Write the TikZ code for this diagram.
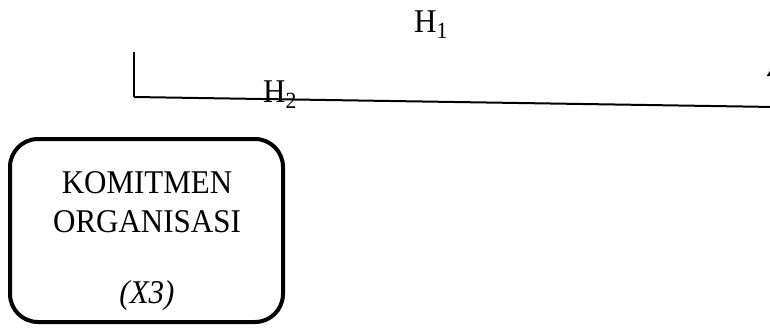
\documentclass[tikz,border=0pt]{standalone}
\usepackage{fontspec}
\setmainfont{Liberation Serif}
\usetikzlibrary{arrows.meta}
\newcommand{\talltext}[1]{\scalebox{1}[1.07]{#1}}
\begin{document}
\begin{tikzpicture}[x=1pt,y=1pt,
  label text/.style={inner sep=0pt, anchor=base west, font=\fontsize{31}{37}\selectfont},
  box text/.style={inner sep=0pt, anchor=base, font=\fontsize{31}{37}\selectfont},
  link/.style={line width=2pt},
  varbox/.style={draw, line width=4pt, rounded corners=28pt}]
\useasboundingbox (0,0) rectangle (770,-327);
\clip (0,0) rectangle (770,-327);

% variable box
\draw[varbox] (10,-139) rectangle (283,-322);
\node[box text] (k) at (147,-193) {\talltext{KOMITMEN}};
\node[box text] (o) at (147,-232) {\talltext{ORGANISASI}};
\node[box text] (x) at (147,-303) {\talltext{\itshape (X3)}};

% hypothesis path
\coordinate (vtop) at (134,-52);
\coordinate (corner) at (134,-97);
\coordinate (rend) at (775,-107);
\draw[link] (vtop) -- (corner);
\draw[link] (corner) -- (rend);

% arrow heading up at the right edge
\coordinate (abase) at (773,-95);
\coordinate (atip) at (773,-66);
\draw[link, -{Triangle[length=10pt,width=12pt]}] (abase) -- (atip);

% hypothesis labels
\node[label text] (h1) at (414,-32) {\talltext{H\textsubscript{1}}};
\node[label text] (h2) at (263,-102) {\talltext{H\textsubscript{2}}};
\end{tikzpicture}
\end{document}
